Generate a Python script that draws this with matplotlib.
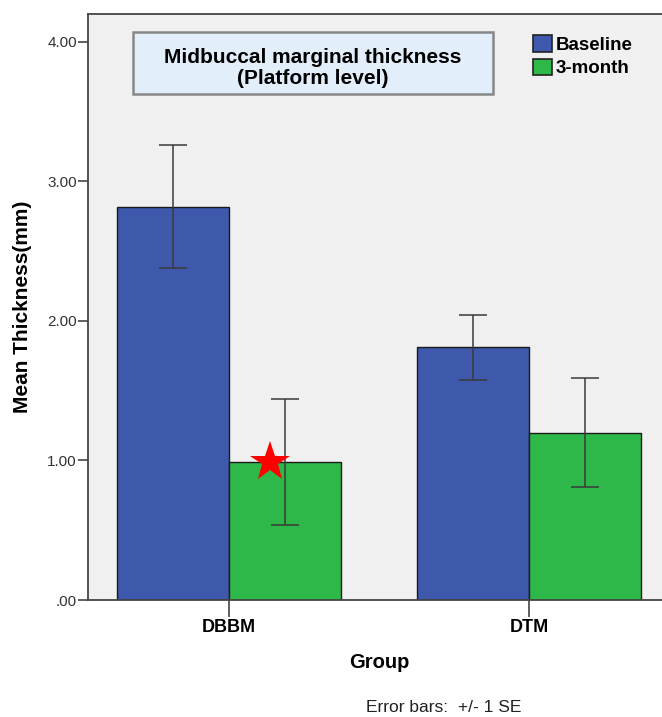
import matplotlib
matplotlib.use("Agg")
import matplotlib.pyplot as plt
from matplotlib.patches import Patch, Rectangle
import numpy as np

groups = ["DBBM", "DTM"]
series = ["Baseline", "3-month"]
baseline_mean = [2.82, 1.81]
baseline_se = [0.44, 0.23]
month3_mean = [0.99, 1.20]
month3_se = [0.45, 0.39]
yticks = [0.0, 1.0, 2.0, 3.0, 4.0]
ytick_labels = [".00", "1.00", "2.00", "3.00", "4.00"]

colors = ["#3E58AC", "#2EB84A"]

plt.rcParams['font.family'] = ['Liberation Sans', 'DejaVu Sans']

fig = plt.figure(figsize=(6.62, 7.17), dpi=100)
ax = fig.add_axes([88/662, 1-600/717, (666-88)/662, (600-14)/717])
ax.set_facecolor("#F0F0F0")

x = np.arange(len(groups))
w = 0.373
ax.bar(x - w/2, baseline_mean, w, color=colors[0], edgecolor="#1a1a1a", linewidth=1.0, zorder=2)
ax.bar(x + w/2, month3_mean, w, color=colors[1], edgecolor="#1a1a1a", linewidth=1.0, zorder=2)
ax.errorbar(x - w/2, baseline_mean, yerr=baseline_se, fmt="none", ecolor="#3a3a3a",
            elinewidth=1.1, capsize=10.4, capthick=1.1, zorder=3)
ax.errorbar(x + w/2, month3_mean, yerr=month3_se, fmt="none", ecolor="#3a3a3a",
            elinewidth=1.1, capsize=10.4, capthick=1.1, zorder=3)

# red star marker on DBBM 3-month
ax.plot(x[0] + w/2 - 0.05, month3_mean[0], marker="*", color="red", markersize=30,
        markeredgewidth=0, zorder=4)

ax.set_xlim(-0.47, 1 + (666-529)/300)
ax.set_ylim(0, 4.2)
ax.set_yticks(yticks)
ax.set_yticklabels(ytick_labels, fontsize=11, color="#333333")
ax.set_xticks(x)
ax.set_xticklabels(groups, fontsize=13, fontweight="bold")
ax.tick_params(axis="y", length=7, width=1.2, color="#444444", pad=1)
ax.tick_params(axis="x", length=12, width=1.2, color="#444444", pad=2)

for s in ["left", "bottom", "top", "right"]:
    ax.spines[s].set_color("#444444")
    ax.spines[s].set_linewidth(1.3)

ax.set_ylabel("Mean Thickness(mm)", fontsize=15, fontweight="bold")
ax.yaxis.set_label_coords(23/662, 1-307/717, transform=fig.transFigure)
ax.set_xlabel("Group", fontsize=14.5, fontweight="bold")
ax.xaxis.set_label_coords(379/662, 1-663/717, transform=fig.transFigure)
ax.xaxis.label.set_va("center")
ax.yaxis.label.set_va("center")

# title box
fig.patches.append(Rectangle((133/662, 1-94/717), (493-133)/662, (94-32)/717,
                             transform=fig.transFigure, facecolor="#E2EEFA",
                             edgecolor="#888888", linewidth=1.8, zorder=5))
fig.text(313/662, 1-68/717, "Midbuccal marginal thickness\n(Platform level)",
         ha="center", va="center", fontsize=15, fontweight="bold", linespacing=1.08, zorder=6)

handles = [Patch(facecolor=c, edgecolor="#222222", linewidth=1.2) for c in colors]
leg = fig.legend(handles, series, loc="upper left", bbox_to_anchor=(533/662, 1-35/717),
                 frameon=False, handlelength=1.0, handleheight=1.0,
                 handletextpad=0.2, labelspacing=0.25, borderaxespad=0, borderpad=0,
                 prop={"weight": "bold", "size": 13.5})

fig.text(444/662, 1-707/717, "Error bars:  +/- 1 SE", ha="center", va="center", fontsize=12.5,
         color="#222222")

fig.savefig("out.png", dpi=100)
